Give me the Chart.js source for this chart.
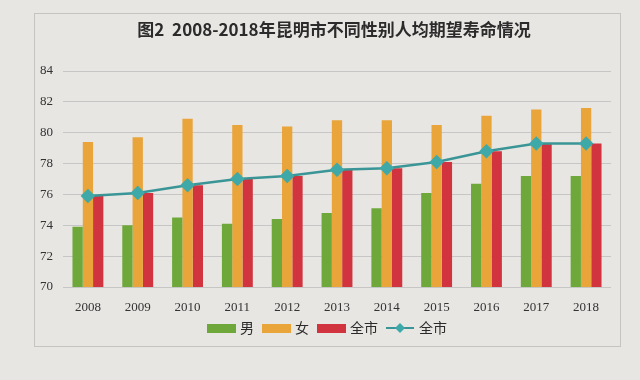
<!DOCTYPE html>
<html>
<head>
<meta charset="utf-8">
<script src="https://cdn.jsdelivr.net/npm/chart.js@4"></script>
<style>
    html, body { margin: 0; padding: 0; background: #e8e6e3; }
    #wrap { width: 640px; height: 380px; position: relative; }
</style>
</head>
<body>
<div id="wrap"><canvas id="lifeChart" width="640" height="380"></canvas></div>
<script>
var years = ["2008", "2009", "2010", "2011", "2012", "2013", "2014", "2015", "2016", "2017", "2018"];
var male = [73.9, 74.0, 74.5, 74.1, 74.4, 74.8, 75.1, 76.1, 76.7, 77.2, 77.2];
var female = [79.4, 79.7, 80.9, 80.5, 80.4, 80.8, 80.8, 80.5, 81.1, 81.5, 81.6];
var city = [75.9, 76.1, 76.6, 77.0, 77.2, 77.6, 77.7, 78.1, 78.8, 79.3, 79.3];
var titleText = "图2  2008-2018年昆明市不同性别人均期望寿命情况";

var serif = "'Liberation Serif', 'DejaVu Serif', serif";
var cjk = "'Noto Sans CJK SC', sans-serif";

// frame + title + legend drawn by hand
var decor = {
    id: "decor",
    beforeDraw: function (chart) {
        var ctx = chart.ctx;
        ctx.save();
        ctx.strokeStyle = "#c6c4c1";
        ctx.lineWidth = 1;
        ctx.strokeRect(34.5, 13.5, 586, 333);
        ctx.fillStyle = "#2b2b2b";
        ctx.font = "bold 17px " + cjk;
        ctx.textAlign = "center";
        ctx.textBaseline = "middle";
        ctx.fillText(titleText, 334, 30);
        ctx.restore();
    },
    afterDraw: function (chart) {
        var ctx = chart.ctx;
        var items = chart.data.datasets;
        var x = 207, y = 328;
        ctx.save();
        ctx.font = "14px " + cjk;
        ctx.textBaseline = "middle";
        items.forEach(function (ds) {
            if (ds.type === "line") {
                ctx.strokeStyle = ds.borderColor;
                ctx.lineWidth = 2;
                ctx.beginPath();
                ctx.moveTo(x, y);
                ctx.lineTo(x + 28, y);
                ctx.stroke();
                ctx.fillStyle = ds.pointBackgroundColor;
                ctx.beginPath();
                ctx.moveTo(x + 14, y - 5);
                ctx.lineTo(x + 19, y);
                ctx.lineTo(x + 14, y + 5);
                ctx.lineTo(x + 9, y);
                ctx.closePath();
                ctx.fill();
            } else {
                ctx.fillStyle = ds.backgroundColor;
                ctx.fillRect(x, y - 4, 29, 9);
            }
            ctx.fillStyle = "#2b2b2b";
            ctx.fillText(ds.label, x + 33, y);
            x += 33 + ctx.measureText(ds.label).width + 8;
        });
        ctx.restore();
    },
};

var ctx = document.getElementById("lifeChart");
var lifeChart = new Chart(ctx, {
    data: {
        labels: years,
        datasets: [
            {
                type: "bar",
                label: "男",
                data: male,
                backgroundColor: "#6fa83a",
                order: 2,
            },
            {
                type: "bar",
                label: "女",
                data: female,
                backgroundColor: "#e9a43a",
                order: 2,
            },
            {
                type: "bar",
                label: "全市",
                data: city,
                backgroundColor: "#d1343e",
                order: 2,
            },
            {
                type: "line",
                label: "全市",
                data: city,
                borderColor: "#3a9696",
                borderWidth: 2.5,
                pointStyle: "rectRot",
                pointRadius: 5.5,
                pointBackgroundColor: "#3fa9a9",
                pointBorderColor: "#3fa9a9",
                tension: 0,
                order: 1,
            },
        ],
    },
    options: {
        responsive: false,
        animation: false,
        layout: {
            padding: { top: 71, right: 29, left: 0, bottom: 0 },
        },
        datasets: {
            bar: {
                categoryPercentage: 0.62,
                barPercentage: 1,
            },
        },
        scales: {
            x: {
                grid: { display: false },
                border: { display: false },
                ticks: {
                    color: "#333",
                    font: { family: serif, size: 13 },
                    padding: 5,
                    maxRotation: 0,
                },
                afterFit: function (scale) {
                    scale.height = 93;
                },
            },
            y: {
                min: 70,
                max: 84,
                ticks: {
                    stepSize: 2,
                    color: "#333",
                    font: { family: serif, size: 13 },
                    padding: 10,
                },
                grid: {
                    color: "#c6c6c6",
                    drawTicks: false,
                },
                border: { display: false },
                afterFit: function (scale) {
                    scale.width = 63;
                },
            },
        },
        plugins: {
            legend: { display: false },
            tooltip: { enabled: false },
        },
    },
    plugins: [decor],
});
</script>
</body>
</html>
